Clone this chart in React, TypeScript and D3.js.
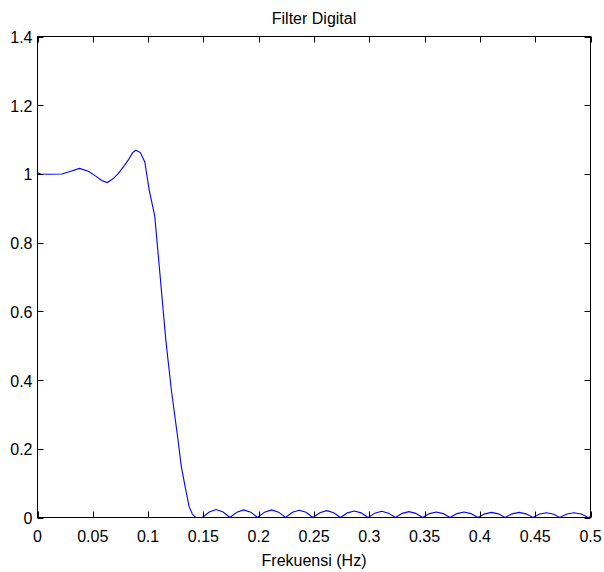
import React from "react";
import * as d3 from "d3";

const freq: number[] = [
  0, 0.003, 0.01, 0.022, 0.03, 0.038, 0.046, 0.053, 0.058, 0.063, 0.068, 0.073, 0.078, 0.082, 0.086, 0.089,
  0.093, 0.097, 0.101, 0.106, 0.112, 0.116, 0.121, 0.127, 0.13, 0.134, 0.137, 0.14, 0.143, 0.149,
  0.1553, 0.1615, 0.1678, 0.174,
  0.1803, 0.1865, 0.1928, 0.199,
  0.2053, 0.2117, 0.218, 0.2243,
  0.2305, 0.2367, 0.2428, 0.249,
  0.2553, 0.2615, 0.2678, 0.274,
  0.2802, 0.2864, 0.2926, 0.2988,
  0.305, 0.3112, 0.3174, 0.3236,
  0.3298, 0.3359, 0.342, 0.3482,
  0.3544, 0.3606, 0.3668, 0.373,
  0.3793, 0.3856, 0.3919, 0.3982,
  0.4044, 0.4105, 0.4167, 0.4228,
  0.4291, 0.4354, 0.4417, 0.448,
  0.4541, 0.4601, 0.4662, 0.4722,
  0.4787, 0.4851, 0.4916, 0.498,
  0.5,
];

const magnitude: number[] = [
  1.003, 1.0, 0.999, 1.0, 1.008, 1.016, 1.008, 0.993, 0.981, 0.975, 0.985, 1.001, 1.022, 1.04, 1.062, 1.069,
  1.062, 1.035, 0.953, 0.878, 0.662, 0.517, 0.372, 0.227, 0.149, 0.081, 0.033, 0.01, 0.0, 0.0,
  0.016, 0.023, 0.016, 0.0,
  0.0155, 0.022, 0.0155, 0.0,
  0.0155, 0.022, 0.0155, 0.0,
  0.015, 0.021, 0.015, 0.0,
  0.014, 0.02, 0.014, 0.0,
  0.0135, 0.019, 0.0135, 0.0,
  0.0127, 0.018, 0.0127, 0.0,
  0.012, 0.017, 0.012, 0.0,
  0.0113, 0.016, 0.0113, 0.0,
  0.0113, 0.016, 0.0113, 0.0,
  0.0106, 0.015, 0.0106, 0.0,
  0.0106, 0.015, 0.0106, 0.0,
  0.01, 0.014, 0.01, 0.0,
  0.01, 0.014, 0.01, 0.0,
  0.002,
];

const xTicks: number[] = [0, 0.05, 0.1, 0.15, 0.2, 0.25, 0.3, 0.35, 0.4, 0.45, 0.5];
const xTickLabels: string[] = ["0", "0.05", "0.1", "0.15", "0.2", "0.25", "0.3", "0.35", "0.4", "0.45", "0.5"];
const yTicks: number[] = [0, 0.2, 0.4, 0.6, 0.8, 1, 1.2, 1.4];
const yTickLabels: string[] = ["0", "0.2", "0.4", "0.6", "0.8", "1", "1.2", "1.4"];

const title = "Filter Digital";
const xLabel = "Frekuensi (Hz)";

export default function App() {
  const W = 604;
  const H = 572;
  const left = 37.5;
  const right = 590.5;
  const top = 36.5;
  const bottom = 517.5;
  const x = d3.scaleLinear().domain([0, 0.5]).range([left, right]);
  const y = d3.scaleLinear().domain([0, 1.4]).range([bottom, top]);
  const pts: [number, number][] = freq.map((f, i) => [f, magnitude[i]]);
  const line = d3
    .line<[number, number]>()
    .x((d) => x(d[0]))
    .y((d) => y(d[1]));
  const tl = 6;
  const font = "'Liberation Sans', Arial, Helvetica, sans-serif";

  return (
    <div style={{ position: "absolute", left: 0, top: 0 }}>
      <svg width={W} height={H} style={{ display: "block", background: "#fff" }}>
        <rect x={0} y={0} width={W} height={H} fill="#fff" />
        <path d={line(pts) || ""} fill="none" stroke="#0000ff" strokeWidth={1.1} />
        <rect x={left} y={top} width={right - left} height={bottom - top} fill="none" stroke="#000" strokeWidth={1} />
        {xTicks.map((t, i) => (
          <g key={"x" + i}>
            <line x1={Math.round(x(t)) + 0.5} x2={Math.round(x(t)) + 0.5} y1={bottom} y2={bottom - tl} stroke="#000" />
            <line x1={Math.round(x(t)) + 0.5} x2={Math.round(x(t)) + 0.5} y1={top} y2={top + tl} stroke="#000" />
            <text x={x(t)} y={541.5} textAnchor="middle" fontFamily={font} fontSize={16} fill="#000">
              {xTickLabels[i]}
            </text>
          </g>
        ))}
        {yTicks.map((t, i) => (
          <g key={"y" + i}>
            <line x1={left} x2={left + tl} y1={Math.round(y(t)) + 0.5} y2={Math.round(y(t)) + 0.5} stroke="#000" />
            <line x1={right} x2={right - tl} y1={Math.round(y(t)) + 0.5} y2={Math.round(y(t)) + 0.5} stroke="#000" />
            <text x={32.5} y={y(t) + 6.5} textAnchor="end" fontFamily={font} fontSize={16} fill="#000">
              {yTickLabels[i]}
            </text>
          </g>
        ))}
        <text x={(left + right) / 2} y={23.5} textAnchor="middle" fontFamily={font} fontSize={16} fill="#000">
          {title}
        </text>
        <text x={(left + right) / 2} y={566} textAnchor="middle" fontFamily={font} fontSize={16} fill="#000">
          {xLabel}
        </text>
      </svg>
    </div>
  );
}
